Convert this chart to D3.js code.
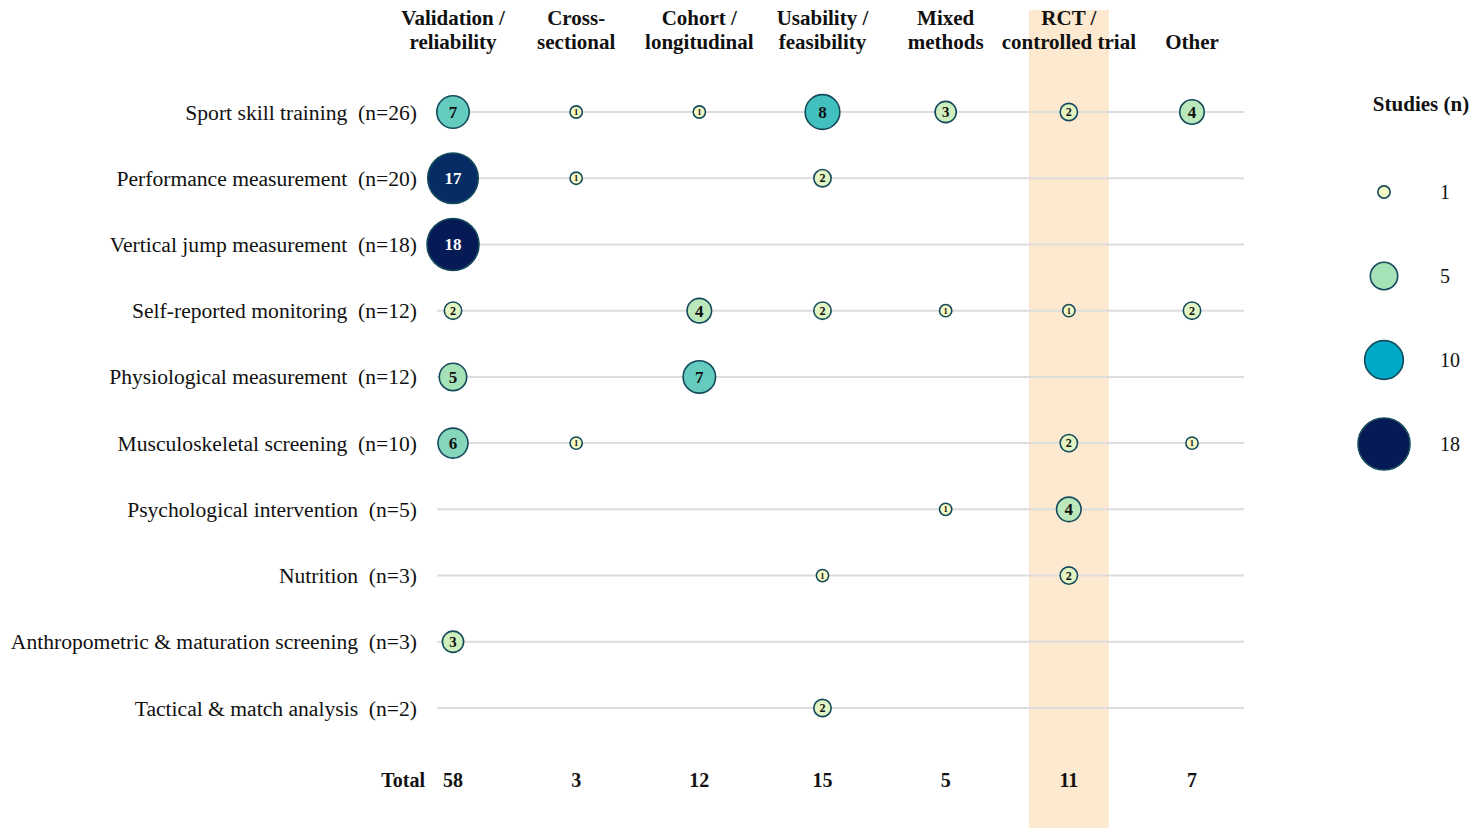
<!DOCTYPE html>
<html>
<head>
<meta charset="utf-8">
<script src="https://cdn.jsdelivr.net/npm/d3@7"></script>
<style>
  body { margin: 0; background: #fff; }
  text { font-family: "Liberation Serif", "DejaVu Serif", serif; }
</style>
</head>
<body>
<div id="chart"></div>
<script>
var width = 1481;
var height = 837;

// study designs (columns)
var designs = ["Validation / reliability", "Cross-sectional", "Cohort / longitudinal",
  "Usability / feasibility", "Mixed methods", "RCT / controlled trial", "Other"];
var designLines = [["Validation /", "reliability"], ["Cross-", "sectional"], ["Cohort /", "longitudinal"],
  ["Usability /", "feasibility"], ["Mixed", "methods"], ["RCT /", "controlled trial"], ["Other"]];

// application areas (rows)
var areas = ["Sport skill training", "Performance measurement", "Vertical jump measurement",
  "Self-reported monitoring", "Physiological measurement", "Musculoskeletal screening",
  "Psychological intervention", "Nutrition", "Anthropometric & maturation screening",
  "Tactical & match analysis"];

// counts per row, one value per design (0 = no studies)
var counts = [
  [7, 1, 1, 8, 3, 2, 4],
  [17, 1, 0, 2, 0, 0, 0],
  [18, 0, 0, 0, 0, 0, 0],
  [2, 0, 4, 2, 1, 1, 2],
  [5, 0, 7, 0, 0, 0, 0],
  [6, 1, 0, 0, 0, 2, 1],
  [0, 0, 0, 0, 1, 4, 0],
  [0, 0, 0, 1, 0, 2, 0],
  [3, 0, 0, 0, 0, 0, 0],
  [0, 0, 0, 2, 0, 0, 0]
];

var legendValues = [1, 5, 10, 18];
var highlighted = "RCT / controlled trial";

var svg = d3.select("#chart").append("svg")
  .attr("width", width)
  .attr("height", height);

// scales
var x = d3.scalePoint().domain(designs).range([453, 1192]);
var y = d3.scalePoint().domain(areas).range([112, 708]);
var r = d3.scaleSqrt().domain([0, 18]).range([0, 26]);
var color = d3.scaleLinear()
  .domain([1, 5, 10, 18])
  .range(["#f6fac4", "#a6e2b8", "#00a9c6", "#061a56"]);

// highlight band behind RCT column
svg.append("rect")
  .attr("x", x(highlighted) - 40)
  .attr("y", 10)
  .attr("width", 80)
  .attr("height", 818)
  .attr("fill", "#fde9d0");

// column headers
designLines.forEach(function(lines, i) {
  var t = svg.append("text")
    .attr("x", x(designs[i]))
    .attr("text-anchor", "middle")
    .style("font-weight", "bold")
    .style("font-size", "21px")
    .attr("fill", "#111");
  var y0 = lines.length === 1 ? 49 : 25;
  lines.forEach(function(l, j) {
    t.append("tspan").attr("x", x(designs[i])).attr("y", y0 + j * 24).text(l);
  });
});

// grid lines
svg.selectAll(".grid")
  .data(areas)
  .enter().append("line")
  .attr("x1", 437)
  .attr("x2", 1244)
  .attr("y1", function(d) { return y(d); })
  .attr("y2", function(d) { return y(d); })
  .attr("stroke", "#dddddd")
  .attr("stroke-width", 2);

// row labels with n
svg.selectAll(".rowlabel")
  .data(areas)
  .enter().append("text")
  .attr("x", 417)
  .attr("y", function(d) { return y(d); })
  .attr("dy", "0.35em")
  .attr("text-anchor", "end")
  .style("font-size", "21.6px")
  .style("white-space", "pre")
  .attr("fill", "#111")
  .text(function(d, i) { return d + "  (n=" + d3.sum(counts[i]) + ")"; });

// bubbles
var cells = [];
counts.forEach(function(row, i) {
  row.forEach(function(v, j) {
    if (v > 0) cells.push({ area: areas[i], design: designs[j], n: v });
  });
});

var g = svg.selectAll(".cell")
  .data(cells)
  .enter().append("g")
  .attr("transform", function(d) { return "translate(" + x(d.design) + "," + y(d.area) + ")"; });

g.append("circle")
  .attr("r", function(d) { return r(d.n); })
  .attr("fill", function(d) { return color(d.n); })
  .attr("stroke", "#154a5c")
  .attr("stroke-width", 1.6);

g.append("text")
  .attr("text-anchor", "middle")
  .attr("dy", "0.35em")
  .style("font-weight", "bold")
  .style("font-size", function(d) { return Math.min(17, r(d.n) * 1.4) + "px"; })
  .attr("fill", function(d) { return d.n >= 12 ? "#fff" : "#111"; })
  .text(function(d) { return d.n; });

// totals
svg.append("text")
  .attr("x", 425)
  .attr("y", 780)
  .attr("dy", "0.35em")
  .attr("text-anchor", "end")
  .style("font-weight", "bold")
  .style("font-size", "20px")
  .attr("fill", "#111")
  .text("Total");

svg.selectAll(".total")
  .data(designs)
  .enter().append("text")
  .attr("x", function(d) { return x(d); })
  .attr("y", 780)
  .attr("dy", "0.35em")
  .attr("text-anchor", "middle")
  .style("font-weight", "bold")
  .style("font-size", "20px")
  .attr("fill", "#111")
  .text(function(d, j) { return d3.sum(counts, function(row) { return row[j]; }); });

// legend
var legend = svg.append("g");
legend.append("text")
  .attr("x", 1421)
  .attr("y", 111)
  .attr("text-anchor", "middle")
  .style("font-weight", "bold")
  .style("font-size", "21px")
  .attr("fill", "#111")
  .text("Studies (n)");

var ly = d3.scalePoint().domain(legendValues).range([192, 444]);
var li = legend.selectAll(".li")
  .data(legendValues)
  .enter().append("g")
  .attr("transform", function(d) { return "translate(1384," + ly(d) + ")"; });

li.append("circle")
  .attr("r", function(d) { return r(d); })
  .attr("fill", function(d) { return color(d); })
  .attr("stroke", "#154a5c")
  .attr("stroke-width", 1.6);

li.append("text")
  .attr("x", 56)
  .attr("dy", "0.35em")
  .attr("text-anchor", "start")
  .style("font-size", "20px")
  .attr("fill", "#111")
  .text(function(d) { return d; });
</script>
</body>
</html>
